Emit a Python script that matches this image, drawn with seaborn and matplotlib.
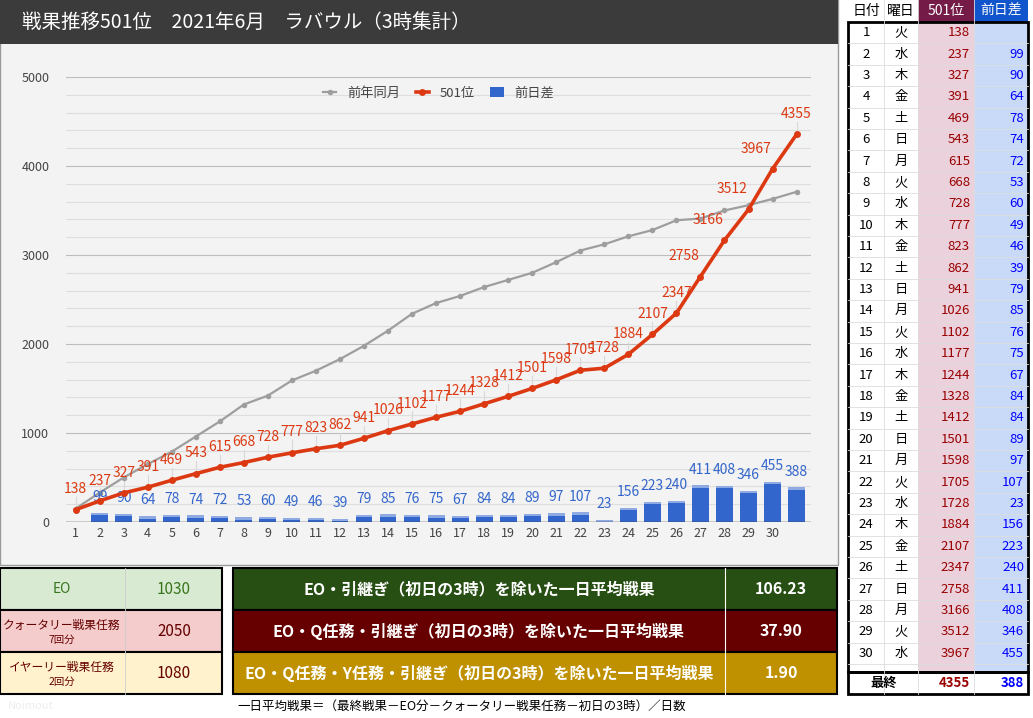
import numpy as np
import pandas as pd
import matplotlib
matplotlib.use("Agg")
import matplotlib.pyplot as plt
import seaborn as sns
from matplotlib.patches import Rectangle

plt.rcParams['font.family'] = ['Noto Sans CJK JP', 'DejaVu Sans']

days = list(range(1, 32))
rank501 = [138, 237, 327, 391, 469, 543, 615, 668, 728, 777, 823, 862, 941, 1026, 1102,
           1177, 1244, 1328, 1412, 1501, 1598, 1705, 1728, 1884, 2107, 2347, 2758, 3166,
           3512, 3967, 4355]
diff = [0, 99, 90, 64, 78, 74, 72, 53, 60, 49, 46, 39, 79, 85, 76, 75, 67, 84, 84, 89,
        97, 107, 23, 156, 223, 240, 411, 408, 346, 455, 388]
lastYear = [150, 330, 500, 650, 790, 960, 1130, 1320, 1420, 1590, 1700, 1830, 1980, 2150,
            2340, 2460, 2540, 2640, 2720, 2800, 2920, 3050, 3120, 3210, 3280, 3390, 3410,
            3500, 3560, 3630, 3710]
weekdays = ['火', '水', '木', '金', '土', '日', '月'] * 5
tickLabels = [str(d) for d in range(1, 31)]

df = pd.DataFrame({'day': days, 'rank': rank501, 'diff': diff, 'last': lastYear})

W, H = 1033, 718
fig = plt.figure(figsize=(W / 100, H / 100), dpi=100)
fig.patch.set_facecolor('white')


def px(x0, y0, x1, y1):
    return [x0 / W, 1 - y1 / H, (x1 - x0) / W, (y1 - y0) / H]


bg = fig.add_axes([0, 0, 1, 1])
bg.set_xlim(0, W)
bg.set_ylim(H, 0)
bg.axis('off')

# chart panel
bg.add_patch(Rectangle((0, 0), 838, 565, fc='#f3f3f3', ec='#999999', lw=1))
bg.add_patch(Rectangle((0, 0), 838, 44, fc='#3b3b3b', ec='none'))
bg.text(22, 22, '戦果推移501位　2021年6月　ラバウル（3時集計）', color='white',
        fontsize=14, va='center', ha='left')

ax = fig.add_axes(px(66, 77, 811, 522))
ax.set_facecolor('#f3f3f3')
ax.set_xlim(0.6, 31.6)
ax.set_ylim(0, 5000)
for v in np.arange(0, 5001, 200):
    ax.axhline(v, color='#bdbdbd' if v % 1000 == 0 else '#dedede', lw=0.8, zorder=0)
ax.bar(df['day'], df['diff'], width=0.7, color='#3366cc', zorder=2)
ax.bar(df['day'], [25 if d else 0 for d in diff], bottom=[max(d - 25, 0) for d in diff],
       width=0.7, color='#8fa9e3', zorder=2)
sns.lineplot(data=df, x='day', y='last', ax=ax, color='#9e9e9e', lw=1.6, marker='o',
             markersize=4, markeredgewidth=0, zorder=3, label='前年同月')
sns.lineplot(data=df, x='day', y='rank', ax=ax, color='#dc3912', lw=2.6, marker='o',
             markersize=5, markeredgewidth=0, zorder=4, label='501位')
for d, r, b in zip(days, rank501, diff):
    dx = -0.7 if 27 <= d <= 30 else 0
    ax.text(d + dx, r + 150, str(r), color='#dc3912', fontsize=10, ha='center', va='bottom')
    if dx == 0:
        ax.plot([d, d], [r + 20, r + 140], color='#d8d8d8', lw=0.8, zorder=1)
    if d > 1:
        ax.text(d, b + 100, str(b), color='#3366cc', fontsize=10, ha='center', va='bottom')
ax.set_xticks(range(1, 31))
ax.set_xticklabels(tickLabels, fontsize=9, color='#444444')
ax.set_yticks(range(0, 5001, 1000))
ax.tick_params(axis='y', labelsize=9, colors='#444444', length=0, pad=12)
ax.tick_params(axis='x', length=0)
ax.set_xlabel('')
ax.set_ylabel('')
for s in ax.spines.values():
    s.set_visible(False)
ax.axhline(0, color='#333333', lw=1, zorder=5)
h, l = ax.get_legend_handles_labels()
h.append(Rectangle((0, 0), 1, 1, fc='#3366cc'))
l.append('前日差')
ax.legend(h, l, loc='upper center', bbox_to_anchor=(0.5, 1.005), ncol=3, frameon=False,
          fontsize=9.5, handlelength=1.0, columnspacing=1.2, labelcolor='#444444')

# right table
cols = [848, 884, 918, 974, 1028]
top, rowH = 22, 21.4
bg.add_patch(Rectangle((918, 0), 56, 22, fc='#741b47', ec='none'))
bg.add_patch(Rectangle((974, 0), 54, 22, fc='#1155cc', ec='none'))
bg.add_patch(Rectangle((918, 22), 56, 650, fc='#ead1dc', ec='none'))
bg.add_patch(Rectangle((974, 22), 54, 650, fc='#c9daf8', ec='none'))
for x, t, c in zip([866, 901, 946, 1001], ['日付', '曜日', '501位', '前日差'],
                   ['black', 'black', 'white', 'white']):
    bg.text(x, 11, t, ha='center', va='center', fontsize=10, color=c)
for i in range(30):
    y = top + rowH * (i + 0.5)
    bg.plot([848, 1028], [top + rowH * (i + 1)] * 2, color='#dddddd', lw=0.6)
    bg.text(866, y, str(days[i]), ha='center', va='center', fontsize=9.5)
    bg.text(901, y, weekdays[i], ha='center', va='center', fontsize=9.5)
    bg.text(970, y, str(rank501[i]), ha='right', va='center', fontsize=9.5, color='#990000')
    if i > 0:
        bg.text(1024, y, str(diff[i]), ha='right', va='center', fontsize=9.5, color='#0000ff')
for x in cols[1:-1]:
    bg.plot([x, x], [0, 694], color='#dddddd', lw=0.6)
bg.add_patch(Rectangle((848, 22), 180, 650, fc='none', ec='black', lw=2))
bg.add_patch(Rectangle((848, 672), 180, 22, fc='none', ec='black', lw=2))
bg.text(884, 683, '最終', ha='center', va='center', fontsize=9.5, weight='bold')
bg.text(970, 683, str(rank501[-1]), ha='right', va='center', fontsize=9.5, weight='bold',
        color='#990000')
bg.text(1024, 683, str(diff[-1]), ha='right', va='center', fontsize=9.5, weight='bold',
        color='#0000ff')

# bottom left boxes
quest = [('EO', '', '1030', '#d9ead3'), ('クォータリー戦果任務', '7回分', '2050', '#f4cccc'),
         ('イヤーリー戦果任務', '2回分', '1080', '#fff2cc')]
for i, (a, b, v, c) in enumerate(quest):
    y0 = 568 + 42 * i
    bg.add_patch(Rectangle((0, y0), 222, 42, fc=c, ec='black', lw=1.5))
    bg.plot([125, 125], [y0, y0 + 42], color='#cccccc', lw=0.6)
    tc = '#38761d' if i == 0 else '#660000'
    if b:
        bg.text(62, y0 + 15, a, ha='center', va='center', fontsize=8.5, color=tc)
        bg.text(62, y0 + 30, b, ha='center', va='center', fontsize=7.5, color=tc)
    else:
        bg.text(62, y0 + 21, a, ha='center', va='center', fontsize=10, color=tc)
    bg.text(174, y0 + 21, v, ha='center', va='center', fontsize=11, color=tc)

avg = [('EO・引継ぎ（初日の3時）を除いた一日平均戦果', '106.23', '#274e13'),
       ('EO・Q任務・引継ぎ（初日の3時）を除いた一日平均戦果', '37.90', '#660000'),
       ('EO・Q任務・Y任務・引継ぎ（初日の3時）を除いた一日平均戦果', '1.90', '#bf9000')]
for i, (t, v, c) in enumerate(avg):
    y0 = 568 + 42 * i
    bg.add_patch(Rectangle((233, y0), 604, 42, fc=c, ec='black', lw=1.5))
    bg.plot([725, 725], [y0, y0 + 42], color='white', lw=0.8)
    bg.text(479, y0 + 21, t, ha='center', va='center', fontsize=11.5, color='white',
            weight='bold')
    bg.text(781, y0 + 21, v, ha='center', va='center', fontsize=11.5, color='white',
            weight='bold', style='italic')
bg.text(8, 706, 'Noimout', fontsize=8, color='#eeeeee', va='center')
bg.text(237, 706, '一日平均戦果＝（最終戦果－EO分－クォータリー戦果任務－初日の3時）／日数',
        fontsize=9, va='center')

fig.savefig('out.png', dpi=100)
